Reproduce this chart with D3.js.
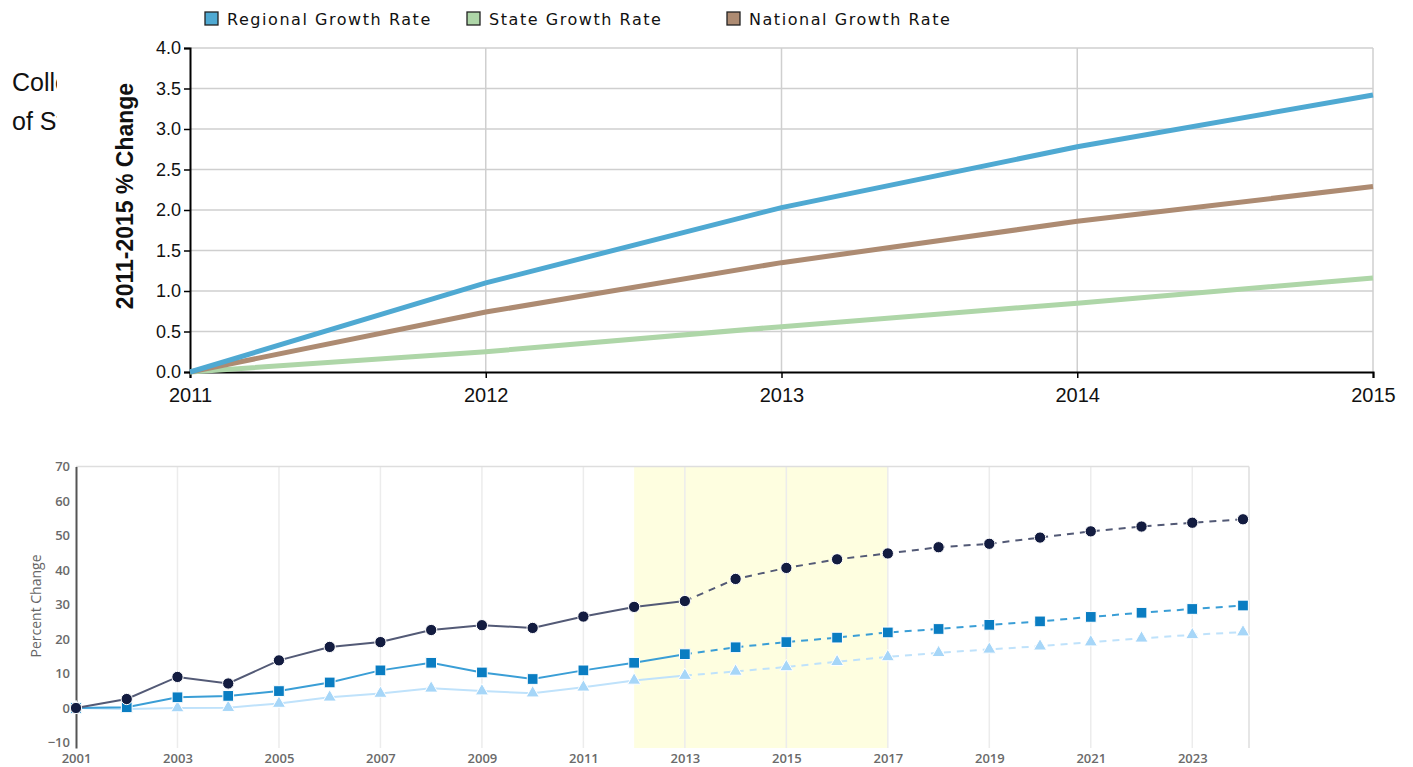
<!DOCTYPE html>
<html>
<head>
<meta charset="utf-8">
<script src="https://cdn.jsdelivr.net/npm/d3@7"></script>
<style>
  html, body { margin: 0; padding: 0; background: #fff; }
  svg { display: block; }
</style>
</head>
<body>
<div id="chart"></div>
<script>
// ---------- Top chart data (2011-2015 % change) ----------
const topYears = [2011, 2012, 2013, 2014, 2015];
const regionalGrowth = [0, 1.10, 2.03, 2.78, 3.42];
const stateGrowth    = [0, 0.25, 0.56, 0.85, 1.16];
const nationalGrowth = [0, 0.74, 1.35, 1.86, 2.29];
const topTicksY = [0, 0.5, 1.0, 1.5, 2.0, 2.5, 3.0, 3.5, 4.0];

const topSeries = [
  { name: "Regional Growth Rate", values: regionalGrowth, color: "#4fa9d2" },
  { name: "State Growth Rate",    values: stateGrowth,    color: "#aed6a8" },
  { name: "National Growth Rate", values: nationalGrowth, color: "#ad8b72" }
];

// ---------- Bottom chart data (percent change 2001-2024) ----------
const bottomYears = [2001, 2002, 2003, 2004, 2005, 2006, 2007, 2008, 2009, 2010, 2011, 2012,
                     2013, 2014, 2015, 2016, 2017, 2018, 2019, 2020, 2021, 2022, 2023, 2024];
const navySeries  = [0, 2.6, 9.0, 7.1, 13.8, 17.7, 19.1, 22.6, 24.0, 23.2, 26.5, 29.3,
                     31.0, 37.4, 40.6, 43.1, 44.8, 46.6, 47.6, 49.4, 51.2, 52.6, 53.7, 54.7];
const blueSeries  = [0, 0.2, 3.1, 3.5, 4.9, 7.4, 10.9, 13.1, 10.3, 8.4, 10.9, 13.1,
                     15.6, 17.6, 19.1, 20.4, 21.9, 22.9, 24.1, 25.1, 26.4, 27.6, 28.7, 29.7];
const lightSeries = [0, -0.3, 0.0, 0.1, 1.3, 3.1, 4.2, 5.7, 4.9, 4.3, 6.0, 8.0,
                     9.4, 10.6, 11.9, 13.4, 14.8, 16.0, 17.0, 17.9, 19.1, 20.2, 21.2, 22.0];
const bottomTicksX = [2001, 2003, 2005, 2007, 2009, 2011, 2013, 2015, 2017, 2019, 2021, 2023];
const bottomTicksY = [-10, 0, 10, 20, 30, 40, 50, 60, 70];
const highlightYears = [2012, 2017];
const lastActualYear = 2013;

const W = 1413, H = 767;

const svg = d3.select("#chart").append("svg")
  .attr("width", W)
  .attr("height", H);

// ---------- Clipped side text ----------
svg.append("clipPath").attr("id", "sideClip")
  .append("rect").attr("x", 0).attr("y", 0).attr("width", 57).attr("height", 200);

const side = svg.append("g").attr("clip-path", "url(#sideClip)")
  .style("font-family", "'Liberation Sans', Arial, sans-serif")
  .style("font-size", "25px")
  .attr("fill", "#111");
side.append("text").attr("x", 12).attr("y", 91).text("College");
side.append("text").attr("x", 12).attr("y", 130).text("of State");

// =======================
// Top chart
// =======================
const xTop = d3.scaleLinear().domain([2011, 2015]).range([190, 1373]);
const yTop = d3.scaleLinear().domain([0, 4]).range([372, 48]);

const topG = svg.append("g");

// grid
topG.append("g").selectAll("line")
  .data(topTicksY.filter(d => d > 0))
  .join("line")
  .attr("x1", xTop(2011)).attr("x2", xTop(2015))
  .attr("y1", d => yTop(d)).attr("y2", d => yTop(d))
  .attr("stroke", "#cfcfcf").attr("stroke-width", 1.5);

topG.append("g").selectAll("line")
  .data(topYears.slice(1))
  .join("line")
  .attr("x1", d => xTop(d)).attr("x2", d => xTop(d))
  .attr("y1", yTop(4)).attr("y2", yTop(0))
  .attr("stroke", "#cfcfcf").attr("stroke-width", 1.5);

// axes
const yAxisTop = topG.append("g")
  .attr("transform", `translate(${xTop(2011)},0)`)
  .call(d3.axisLeft(yTop).tickValues(topTicksY).tickFormat(d3.format(".1f")).tickSize(6).tickPadding(3));
const xAxisTop = topG.append("g")
  .attr("transform", `translate(0,${yTop(0)})`)
  .call(d3.axisBottom(xTop).tickValues(topYears).tickFormat(d3.format("d")).tickSize(6).tickPadding(10));

[yAxisTop, xAxisTop].forEach(g => {
  g.select(".domain").attr("stroke", "#000").attr("stroke-width", 2);
  g.selectAll(".tick line").attr("stroke", "#000").attr("stroke-width", 1.5);
  g.selectAll("text")
    .attr("fill", "#111")
    .style("font-family", "'Liberation Sans', Arial, sans-serif");
});
yAxisTop.selectAll("text").style("font-size", "18px");
xAxisTop.selectAll("text").style("font-size", "20px");

// y title
topG.append("text")
  .attr("transform", `translate(133,196) rotate(-90)`)
  .attr("text-anchor", "middle")
  .style("font-family", "'Liberation Sans', Arial, sans-serif")
  .style("font-size", "23px")
  .style("font-weight", "bold")
  .attr("fill", "#111")
  .text("2011-2015 % Change");

// lines
const lineTop = d3.line()
  .x((d, i) => xTop(topYears[i]))
  .y(d => yTop(d));

topG.append("g").selectAll("path")
  .data([topSeries[1], topSeries[2], topSeries[0]])
  .join("path")
  .attr("d", d => lineTop(d.values))
  .attr("fill", "none")
  .attr("stroke", d => d.color)
  .attr("stroke-width", 5);

// legend
const legendX = [205, 467, 727];
const legend = svg.append("g").selectAll("g")
  .data(topSeries)
  .join("g")
  .attr("transform", (d, i) => `translate(${legendX[i]},12)`);
legend.append("rect")
  .attr("width", 13).attr("height", 13)
  .attr("fill", d => d.color)
  .attr("stroke", "#222").attr("stroke-width", 1.3);
legend.append("text")
  .attr("x", 22).attr("y", 13)
  .style("font-family", "'DejaVu Sans', sans-serif")
  .style("font-size", "16px")
  .style("letter-spacing", "1.55px")
  .attr("fill", "#111")
  .text(d => d.name);

// =======================
// Bottom chart
// =======================
const xBot = d3.scaleLinear().domain([2001, 2024]).range([76, 1243]);
const yBot = d3.scaleLinear().domain([-11.6, 70]).range([748, 466.5]);
const rightEdge = 1249;

const botG = svg.append("g");

// forecast highlight
botG.append("rect")
  .attr("x", xBot(highlightYears[0]))
  .attr("y", yBot(70))
  .attr("width", xBot(highlightYears[1]) - xBot(highlightYears[0]))
  .attr("height", yBot(-11.6) - yBot(70))
  .attr("fill", "#fefee0");

// grid
botG.append("g").selectAll("line")
  .data(bottomTicksX.slice(1))
  .join("line")
  .attr("x1", d => xBot(d)).attr("x2", d => xBot(d))
  .attr("y1", yBot(70)).attr("y2", yBot(-11.6))
  .attr("stroke", "#ececec").attr("stroke-width", 1.5);

botG.append("line")
  .attr("x1", xBot(2001)).attr("x2", rightEdge)
  .attr("y1", yBot(70)).attr("y2", yBot(70))
  .attr("stroke", "#dedede").attr("stroke-width", 1.5);
botG.append("line")
  .attr("x1", rightEdge).attr("x2", rightEdge)
  .attr("y1", yBot(70)).attr("y2", yBot(-11.6))
  .attr("stroke", "#dedede").attr("stroke-width", 1.5);

// axes
const yAxisBot = botG.append("g")
  .attr("transform", `translate(${xBot(2001)},0)`)
  .call(d3.axisLeft(yBot).tickValues(bottomTicksY).tickSize(0).tickPadding(6));
const xAxisBot = botG.append("g")
  .attr("transform", `translate(0,${yBot(-11.6)})`)
  .call(d3.axisBottom(xBot).tickValues(bottomTicksX).tickFormat(d3.format("d")).tickSize(0).tickPadding(6));

yAxisBot.select(".domain").attr("stroke", "#555").attr("stroke-width", 2);
xAxisBot.select(".domain").remove();
[yAxisBot, xAxisBot].forEach(g => {
  g.selectAll("text")
    .attr("fill", "#6a6a6a")
    .style("font-family", "'Open Sans', sans-serif")
    .style("font-size", "13px")
    .style("font-weight", "600");
});

botG.append("text")
  .attr("transform", `translate(41,606) rotate(-90)`)
  .attr("text-anchor", "middle")
  .style("font-family", "'Open Sans', sans-serif")
  .style("font-size", "14px")
  .style("font-weight", "400")
  .attr("fill", "#666")
  .text("Percent Change");

// series
const bottomSeries = [
  { values: lightSeries, line: "#bfe2fb", fill: "#a6d6f8", shape: d3.symbolTriangle, size: 75 },
  { values: blueSeries,  line: "#3a9ed6", fill: "#0a7dc2", shape: d3.symbolSquare,   size: 115 },
  { values: navySeries,  line: "#535a76", fill: "#131c40", shape: d3.symbolCircle,   size: 100 }
];

const lineBot = d3.line()
  .x(d => xBot(d.year))
  .y(d => yBot(d.value));

bottomSeries.forEach(s => {
  const pts = bottomYears.map((y, i) => ({ year: y, value: s.values[i] }));
  const actual = pts.filter(p => p.year <= lastActualYear);
  const proj = pts.filter(p => p.year >= lastActualYear);

  botG.append("path")
    .attr("d", lineBot(actual))
    .attr("fill", "none")
    .attr("stroke", s.line)
    .attr("stroke-width", 2);
  botG.append("path")
    .attr("d", lineBot(proj))
    .attr("fill", "none")
    .attr("stroke", s.line)
    .attr("stroke-width", 2)
    .attr("stroke-dasharray", "7,6");

  botG.append("g").selectAll("path")
    .data(pts)
    .join("path")
    .attr("transform", d => `translate(${xBot(d.year)},${yBot(d.value)})`)
    .attr("d", d3.symbol().type(s.shape).size(s.size))
    .attr("fill", s.fill)
    .attr("stroke", "#fff")
    .attr("stroke-width", 1);
});
</script>
</body>
</html>
